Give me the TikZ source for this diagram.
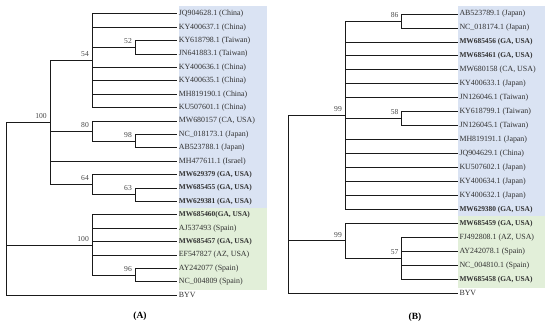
\documentclass[tikz,border=0pt]{standalone}
\usepackage{fontspec}
\setmainfont{Liberation Serif}
\usetikzlibrary{positioning, calc}
\definecolor{CladeBlue}{HTML}{DAE3F3}
\definecolor{CladeGreen}{HTML}{E2EFD9}
\definecolor{Branch}{HTML}{1A1A1A}
\tikzset{
    leafnode/.style={anchor=west, inner sep=1.6pt, font=\fontsize{7.9}{9}\selectfont, text=Branch!90},
    boldleaf/.style={leafnode, font=\fontsize{7.4}{9}\selectfont\bfseries},
    bootlabel/.style={anchor=south east, inner sep=0pt, xshift=-3pt, yshift=3.5pt, font=\fontsize{7.6}{9}\selectfont, text=Branch!80},
    branch/.style={line width=0.8pt, color=Branch},
    panellabel/.style={font=\fontsize{9.5}{11}\selectfont\bfseries},
}

\begin{document}
\begin{tikzpicture}[x=1pt, y=-1pt]
    \useasboundingbox (0,0) rectangle (550,327);

    % --- sfondi dei cladi ---
    \fill[CladeBlue] (179.3,5.5) rectangle (266.7,208.3);
    \fill[CladeGreen] (179.3,208.3) rectangle (266.7,289.7);
    \fill[CladeBlue] (458.3,5.5) rectangle (545,216.3);
    \fill[CladeGreen] (458.3,216.3) rectangle (545,287.5);

    % --- (A): foglie ---
    \node[leafnode] (a0) at (177,13.8) {JQ904628.1 (China)};
    \node[leafnode] (a1) at (177,27.2) {KY400637.1 (China)};
    \node[leafnode] (a2) at (177,40.6) {KY618798.1 (Taiwan)};
    \node[leafnode] (a3) at (177,54.0) {JN641883.1 (Taiwan)};
    \node[leafnode] (a4) at (177,67.4) {KY400636.1 (China)};
    \node[leafnode] (a5) at (177,80.8) {KY400635.1 (China)};
    \node[leafnode] (a6) at (177,94.2) {MH819190.1 (China)};
    \node[leafnode] (a7) at (177,107.6) {KU507601.1 (China)};
    \node[leafnode] (a8) at (177,121.0) {MW680157 (CA, USA)};
    \node[leafnode] (a9) at (177,134.4) {NC\_018173.1 (Japan)};
    \node[leafnode] (a10) at (177,147.8) {AB523788.1 (Japan)};
    \node[leafnode] (a11) at (177,161.2) {MH477611.1 (Israel)};
    \node[boldleaf] (a12) at (177,174.6) {MW629379 (GA, USA)};
    \node[boldleaf] (a13) at (177,188.0) {MW685455 (GA, USA)};
    \node[boldleaf] (a14) at (177,201.4) {MW629381 (GA, USA)};
    \node[boldleaf] (a15) at (177,214.8) {MW685460(GA, USA)};
    \node[leafnode] (a16) at (177,228.2) {AJ537493 (Spain)};
    \node[boldleaf] (a17) at (177,241.6) {MW685457 (GA, USA)};
    \node[leafnode] (a18) at (177,255.0) {EF547827 (AZ, USA)};
    \node[leafnode] (a19) at (177,268.4) {AY242077 (Spain)};
    \node[leafnode] (a20) at (177,281.8) {NC\_004809 (Spain)};
    \node[leafnode] (a21) at (177,295.2) {BYV};

    % --- (A): nodi interni ---
    \coordinate (aroot) at (6.5,209);
    \coordinate (ablue) at (50,122.7);
    \coordinate (a54) at (92,60.7);
    \coordinate (a52) at (135,47.3);
    \coordinate (a80) at (92,131.05);
    \coordinate (a98) at (135,141.1);
    \coordinate (a64) at (92,184.65);
    \coordinate (a63) at (135,194.7);
    \coordinate (agreen) at (92,244.95);
    \coordinate (a96) at (135,275.1);

    % --- (A): rami ---
    \draw[branch] (aroot) |- (ablue);
    \draw[branch] (aroot) |- (agreen);
    \draw[branch] (aroot) |- (a21.west);
    \draw[branch] (ablue) |- (a54);
    \draw[branch] (ablue) |- (a80);
    \draw[branch] (ablue) |- (a11.west);
    \draw[branch] (ablue) |- (a64);
    \foreach \k in {0,1,4,5,6,7} \draw[branch] (a54) |- (a\k.west);
    \draw[branch] (a54) |- (a52);
    \draw[branch] (a52) |- (a2.west);
    \draw[branch] (a52) |- (a3.west);
    \draw[branch] (a80) |- (a8.west);
    \draw[branch] (a80) |- (a98);
    \draw[branch] (a98) |- (a9.west);
    \draw[branch] (a98) |- (a10.west);
    \draw[branch] (a64) |- (a12.west);
    \draw[branch] (a64) |- (a63);
    \draw[branch] (a63) |- (a13.west);
    \draw[branch] (a63) |- (a14.west);
    \foreach \k in {15,...,18} \draw[branch] (agreen) |- (a\k.west);
    \draw[branch] (agreen) |- (a96);
    \draw[branch] (a96) |- (a19.west);
    \draw[branch] (a96) |- (a20.west);

    % --- (A): bootstrap ---
    \node[bootlabel] (ablueboot) at (ablue) {100};
    \node[bootlabel] (a54boot) at (a54) {54};
    \node[bootlabel] (a52boot) at (a52) {52};
    \node[bootlabel] (a80boot) at (a80) {80};
    \node[bootlabel] (a98boot) at (a98) {98};
    \node[bootlabel] (a64boot) at (a64) {64};
    \node[bootlabel] (a63boot) at (a63) {63};
    \node[bootlabel] (agreenboot) at (agreen) {100};
    \node[bootlabel] (a96boot) at (a96) {96};

    \node[panellabel] (paneA) at (140,316) {(A)};

    % --- (B): foglie ---
    \node[leafnode] (b0) at (457.7,14.0) {AB523789.1 (Japan)};
    \node[leafnode] (b1) at (457.7,27.96) {NC\_018174.1 (Japan)};
    \node[boldleaf] (b2) at (457.7,41.92) {MW685456 (GA, USA)};
    \node[boldleaf] (b3) at (457.7,55.88) {MW685461 (GA, USA)};
    \node[leafnode] (b4) at (457.7,69.84) {MW680158 (CA, USA)};
    \node[leafnode] (b5) at (457.7,83.8) {KY400633.1 (Japan)};
    \node[leafnode] (b6) at (457.7,97.76) {JN126046.1 (Taiwan)};
    \node[leafnode] (b7) at (457.7,111.72) {KY618799.1 (Taiwan)};
    \node[leafnode] (b8) at (457.7,125.68) {JN126045.1 (Taiwan)};
    \node[leafnode] (b9) at (457.7,139.64) {MH819191.1 (Japan)};
    \node[leafnode] (b10) at (457.7,153.6) {JQ904629.1 (China)};
    \node[leafnode] (b11) at (457.7,167.56) {KU507602.1 (Japan)};
    \node[leafnode] (b12) at (457.7,181.52) {KY400634.1 (Japan)};
    \node[leafnode] (b13) at (457.7,195.48) {KY400632.1 (Japan)};
    \node[boldleaf] (b14) at (457.7,209.44) {MW629380 (GA, USA)};
    \node[boldleaf] (b15) at (457.7,223.4) {MW685459 (GA, USA)};
    \node[leafnode] (b16) at (457.7,237.36) {FJ492808.1 (AZ, USA)};
    \node[leafnode] (b17) at (457.7,251.32) {AY242078.1 (Spain)};
    \node[leafnode] (b18) at (457.7,265.28) {NC\_004810.1 (Spain)};
    \node[boldleaf] (b19) at (457.7,279.24) {MW685458 (GA, USA)};
    \node[leafnode] (b20) at (457.7,293.2) {BYV};

    % --- (B): nodi interni ---
    \coordinate (broot) at (288.3,200);
    \coordinate (bblue) at (345,115.21);
    \coordinate (b86) at (401.7,20.98);
    \coordinate (b58) at (401.7,118.7);
    \coordinate (bgreen) at (345,240.85);
    \coordinate (b57) at (401.7,258.3);

    % --- (B): rami ---
    \draw[branch] (broot) |- (bblue);
    \draw[branch] (broot) |- (bgreen);
    \draw[branch] (broot) |- (b20.west);
    \draw[branch] (bblue) |- (b86);
    \draw[branch] (bblue) |- (b58);
    \foreach \k in {2,...,6,9,10,11,12,13,14} \draw[branch] (bblue) |- (b\k.west);
    \draw[branch] (b86) |- (b0.west);
    \draw[branch] (b86) |- (b1.west);
    \draw[branch] (b58) |- (b7.west);
    \draw[branch] (b58) |- (b8.west);
    \draw[branch] (bgreen) |- (b15.west);
    \draw[branch] (bgreen) |- (b57);
    \foreach \k in {16,...,19} \draw[branch] (b57) |- (b\k.west);

    % --- (B): bootstrap ---
    \node[bootlabel] (bblueboot) at (bblue) {99};
    \node[bootlabel] (b86boot) at (b86) {86};
    \node[bootlabel] (b58boot) at (b58) {58};
    \node[bootlabel] (bgreenboot) at (bgreen) {99};
    \node[bootlabel] (b57boot) at (b57) {57};

    \node[panellabel] (paneB) at (415,317) {(B)};

\end{tikzpicture}
\end{document}
